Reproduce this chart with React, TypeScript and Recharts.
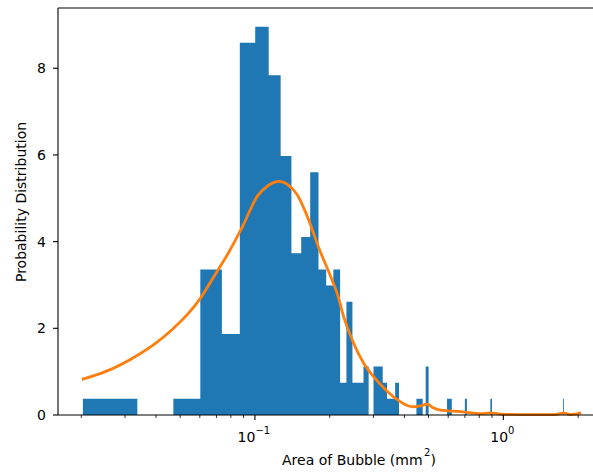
import { ComposedChart, Area, Line, XAxis, YAxis, ReferenceLine } from 'recharts';

// histogram: linear bins drawn on a log x axis
const BIN_START = 0.0203;
const BIN_WIDTH = 0.01333;
const DENSITY_PER_COUNT = 0.3733;

// only the non-empty bins
const binIndex = [0, 2, 3, 4, 5, 6, 7, 8, 9, 10, 11, 12, 13, 14, 15, 16, 17, 18, 19, 21, 22, 23, 24, 25, 26, 32, 33, 35, 43, 44, 51, 65, 129];
const binCount = [1, 1, 9, 5, 23, 24, 21, 16, 10, 11, 15, 9, 8, 9, 2, 7, 2, 2, 3, 3, 3, 2, 1, 1, 2, 1, 1, 3, 1, 1, 1, 1, 1];

// density curve
const kdeX = [0.0201, 0.025, 0.0337, 0.0399, 0.0466, 0.0543, 0.0601, 0.0695, 0.0786, 0.089, 0.1023, 0.1135, 0.1249, 0.1366, 0.148, 0.1649, 0.1804, 0.2016, 0.2145, 0.2279, 0.2464, 0.2744, 0.301, 0.3407, 0.3793, 0.4101, 0.4359, 0.4639, 0.4934, 0.5244, 0.558, 0.631, 0.7145, 0.8082, 0.8867, 0.9725, 1.17, 1.408, 1.619, 1.69, 1.743, 1.8, 1.86, 1.948, 2.0, 2.053];
const kdeY = [0.82, 1.0, 1.38, 1.66, 1.98, 2.36, 2.68, 3.26, 3.76, 4.34, 5.05, 5.3, 5.39, 5.3, 5.08, 4.49, 3.87, 3.2, 2.8, 2.26, 1.73, 1.19, 0.88, 0.55, 0.33, 0.22, 0.19, 0.21, 0.25, 0.16, 0.11, 0.09, 0.06, 0.03, 0.05, 0.02, 0.01, 0.01, 0.01, 0.03, 0.05, 0.03, 0.01, 0.02, 0.03, 0.06];

const yTicks = [0, 2, 4, 6, 8];
const xMajorTicks = [0.1, 1];
const xMajorExponents = ['−1', '0'];
const xMinorTicks = [0.02, 0.03, 0.04, 0.05, 0.06, 0.07, 0.08, 0.09, 0.2, 0.3, 0.4, 0.5, 0.6, 0.7, 0.8, 0.9, 2];

const X_DOMAIN = [0.01612, 2.542];
const Y_MAX = 9.39;
const FONT = 'DejaVu Sans';

// step data for the histogram outline
const histData: { x: number; y: number }[] = [];
binIndex.forEach((k, i) => {
  const lo = BIN_START + k * BIN_WIDTH;
  histData.push({ x: lo, y: binCount[i] * DENSITY_PER_COUNT });
  if (binIndex[i + 1] !== k + 1) histData.push({ x: lo + BIN_WIDTH, y: 0 });
});

const kdeData = kdeX.map((x, i) => ({ x, y: kdeY[i] }));

const XTick = ({ x, y, payload }: any) => {
  const idx = xMajorTicks.indexOf(payload.value);
  const major = idx >= 0;
  return (
    <g>
      <line x1={x} x2={x} y1={y} y2={y + (major ? 5 : 3)} stroke="#000" strokeWidth={major ? 1.1 : 0.8} />
      {major && (
        <text x={x - 1} y={y + 27} textAnchor="middle" fontFamily={FONT} fontSize={14} fill="#000">
          10
          <tspan dy={-8} fontSize={10}>{xMajorExponents[idx]}</tspan>
        </text>
      )}
    </g>
  );
};

const renderXLabel = () => (
  <text x={359} y={464.5} textAnchor="middle" fontFamily={FONT} fontSize={14} fill="#000">
    Area of Bubble (mm
    <tspan dx={1.5} dy={-9} fontSize={10}>2</tspan>
    <tspan dy={9} fontSize={14}>)</tspan>
  </text>
);

const renderYLabel = () => (
  <text x={26} y={202} textAnchor="middle" transform="rotate(-90, 26, 202)" fontFamily={FONT} fontSize={14} fill="#000">
    Probability Distribution
  </text>
);

export default function App() {
  return (
    <div style={{ position: 'fixed', left: 0, top: 0, width: 593, height: 473, overflow: 'hidden', background: '#fff' }}>
      <ComposedChart width={620} height={473} margin={{ top: 8, right: 16, bottom: 0, left: 0 }}>
        <XAxis
          dataKey="x"
          type="number"
          scale="log"
          domain={X_DOMAIN}
          allowDataOverflow
          ticks={[...xMinorTicks, ...xMajorTicks]}
          interval={0}
          tick={<XTick />}
          tickLine={false}
          tickSize={0}
          tickMargin={0}
          height={58}
          axisLine={{ stroke: '#000', strokeWidth: 1.1 }}
          label={renderXLabel}
        />
        <YAxis
          type="number"
          domain={[0, Y_MAX]}
          ticks={yTicks}
          interval={0}
          width={58}
          tickSize={5}
          tickMargin={7}
          tickLine={{ stroke: '#000', strokeWidth: 1.1 }}
          axisLine={{ stroke: '#000', strokeWidth: 1.1 }}
          tick={{ fill: '#000', fontSize: 14, fontFamily: FONT }}
          label={renderYLabel}
        />
        <Area
          data={histData}
          dataKey="y"
          type="stepAfter"
          fill="#1f77b4"
          fillOpacity={1}
          stroke="none"
          isAnimationActive={false}
        />
        <Line
          data={kdeData}
          dataKey="y"
          type="monotone"
          stroke="#ff7f0e"
          strokeWidth={2.8}
          dot={false}
          isAnimationActive={false}
        />
        <ReferenceLine y={Y_MAX} stroke="#000" strokeWidth={1.1} />
      </ComposedChart>
    </div>
  );
}
